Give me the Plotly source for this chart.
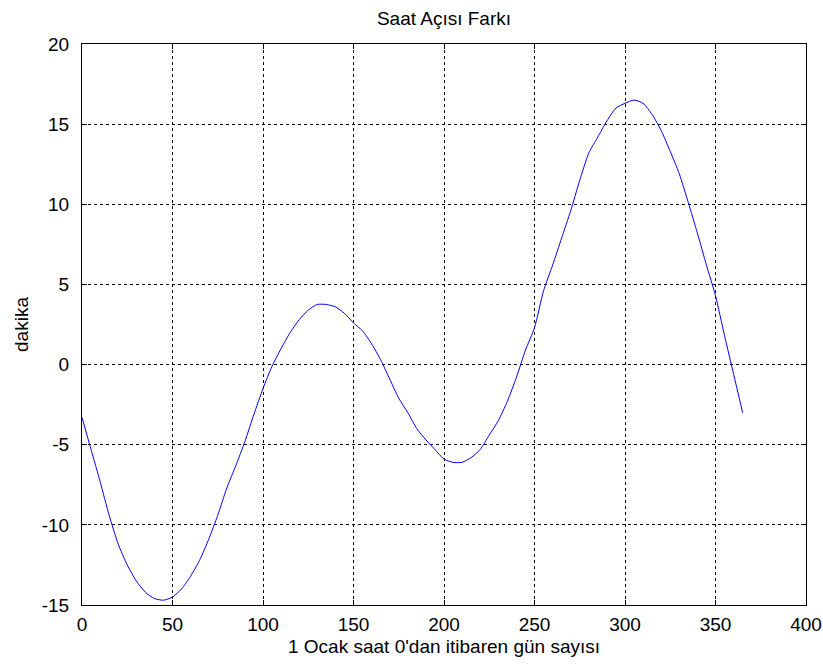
import plotly.graph_objects as go

days = list(range(0, 366, 5))
minutes = [
    -3.3, -5.3, -7.3, -9.4, -11.2, -12.5, -13.5, -14.2, -14.6, -14.7,
    -14.5, -14.0, -13.2, -12.2, -10.9, -9.4, -7.7, -6.3, -4.8, -3.1,
    -1.5, -0.1, 1.0, 2.0, 2.8, 3.4, 3.75, 3.75, 3.6, 3.2,
    2.6, 2.1, 1.3, 0.3, -0.9, -2.1, -3.0, -4.0, -4.7, -5.3,
    -5.9, -6.1, -6.1, -5.8, -5.3, -4.4, -3.5, -2.3, -0.8, 0.9,
    2.3, 4.6, 6.2, 7.9, 9.6, 11.5, 13.2, 14.2, 15.2, 16.0,
    16.3, 16.5, 16.3, 15.6, 14.6, 13.3, 11.9, 10.1, 8.2, 6.2,
    4.3, 1.8, -0.6, -3.0,
]
x_ticks = [0, 50, 100, 150, 200, 250, 300, 350, 400]
x_tick_labels = ["0", "50", "100", "150", "200", "250", "300", "350", "400"]
y_ticks = [-15, -10, -5, 0, 5, 10, 15, 20]
y_tick_labels = ["-15", "-10", "-5", "0", "5", "10", "15", "20"]

title_text = "Saat Açısı Farkı"
x_title = "1 Ocak saat 0'dan itibaren gün sayısı"
y_title = "dakika"

FONT = "Liberation Sans, Arial, sans-serif"
FS = 19

fig = go.Figure()
fig.add_trace(go.Scatter(x=days, y=minutes, mode="lines",
                         line=dict(color="#0000ff", width=1, shape="spline", smoothing=0.6),
                         showlegend=False))

axis_common = dict(
    showline=True, linecolor="black", linewidth=1, mirror="ticks",
    ticks="inside", ticklen=5, tickcolor="black", tickwidth=1,
    showgrid=True, gridcolor="black", gridwidth=1, griddash="3px,3px",
    zeroline=False, automargin=False,
    tickfont=dict(family=FONT, size=FS, color="black"),
)

fig.update_xaxes(range=[0, 400], tickvals=x_ticks, ticktext=x_tick_labels, ticklabelstandoff=2,
                 title=dict(text=x_title, font=dict(family=FONT, size=FS, color="black"), standoff=5),
                 **axis_common)
fig.update_yaxes(range=[-15, 20], tickvals=y_ticks, ticktext=y_tick_labels, ticklabelstandoff=8,
                 title=dict(text=y_title, font=dict(family=FONT, size=FS, color="black"), standoff=8),
                 **axis_common)

fig.update_layout(
    width=823, height=669,
    margin=dict(l=82, r=17, t=44, b=64),
    paper_bgcolor="white", plot_bgcolor="white",
    title=dict(text=title_text, x=0.5, xref="paper", xanchor="center",
               y=1 - 18 / 669, yref="container", yanchor="middle",
               font=dict(family=FONT, size=FS, color="black")),
)

fig.write_html("out.html")
